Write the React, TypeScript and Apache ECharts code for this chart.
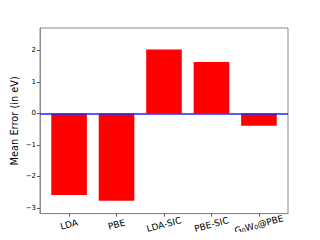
import React, { useEffect, useRef } from "react";
import * as echarts from "echarts";

const categories = ["LDA", "PBE", "LDA-SIC", "PBE-SIC", "G_0W_0@PBE"];
const meanErrors = [-2.59, -2.77, 2.03, 1.63, -0.39];
const yTicks = [-3, -2, -1, 0, 1, 2];
const xTicks = [0, 1, 2, 3, 4];

const ROT = 15;
const X_FONT = 9;

// turn "G_0W_0@PBE" into rich text with subscripts
function toRich(label: string): string {
  const parts = label.split(/(_\d)/).filter((p) => p.length > 0);
  if (parts.length === 1) return label;
  return parts
    .map((p) => (p.startsWith("_") ? "{s|" + p.slice(1) + "}" : "{n|" + p + "}"))
    .join("");
}

export default function App() {
  const ref = useRef<HTMLDivElement>(null);
  useEffect(() => {
    if (!ref.current) return;
    const chart = echarts.init(ref.current, null, { renderer: "svg" });
    chart.setOption({
      animation: false,
      grid: {
        left: 40,
        top: 28,
        width: 248,
        height: 185.6,
        show: true,
        borderColor: "#8a8a8a",
        borderWidth: 1,
        containLabel: false,
        outerBoundsMode: "none",
      },
      xAxis: {
        type: "value",
        min: -0.6125,
        max: 4.6125,
        splitLine: { show: false },
        axisLine: { show: true, onZero: false, lineStyle: { color: "#8a8a8a", width: 1 } },
        axisTick: { show: true, customValues: xTicks, length: 3, lineStyle: { color: "#555" } },
        axisLabel: {
          customValues: xTicks,
          rotate: ROT,
          align: "center",
          verticalAlign: "middle",
          margin: 11,
          hideOverlap: false,
          fontSize: X_FONT,
          fontFamily: "DejaVu Sans",
          color: "#000",
          formatter: (v: number) => toRich(categories[Math.round(v)]),
          rich: {
            n: { fontSize: X_FONT, fontFamily: "DejaVu Sans", color: "#000" },
            s: { fontSize: 6.3, fontFamily: "DejaVu Sans", color: "#000", verticalAlign: "bottom" },
          },
        },
      },
      yAxis: {
        type: "value",
        min: -3.18,
        max: 2.71,
        name: "Mean Error (in eV)",
        nameLocation: "middle",
        nameGap: 21,
        nameMoveOverlap: false,
        nameTextStyle: { fontSize: 9.8, fontFamily: "DejaVu Sans", color: "#000" },
        splitLine: { show: false },
        axisLine: { show: true, onZero: false, lineStyle: { color: "#8a8a8a", width: 1 } },
        axisTick: { show: true, customValues: yTicks, length: 3, lineStyle: { color: "#555" } },
        axisLabel: {
          customValues: yTicks,
          fontSize: 7,
          fontFamily: "DejaVu Sans",
          color: "#000",
          margin: 4,
          formatter: (v: number) => (v < 0 ? "\u2212" + Math.abs(v) : String(v)),
        },
      },
      series: [
        {
          type: "bar",
          data: meanErrors.map((v, i) => [xTicks[i], v]),
          barWidth: 35.6,
          itemStyle: { color: "#ff0000" },
          markLine: {
            silent: true,
            symbol: "none",
            label: { show: false },
            lineStyle: { color: "#2222ff", type: "solid", width: 1.5 },
            data: [{ yAxis: 0 }],
          },
        },
      ],
    });
    return () => chart.dispose();
  }, []);
  return <div ref={ref} style={{ width: 320, height: 240, margin: -8 }} />;
}
